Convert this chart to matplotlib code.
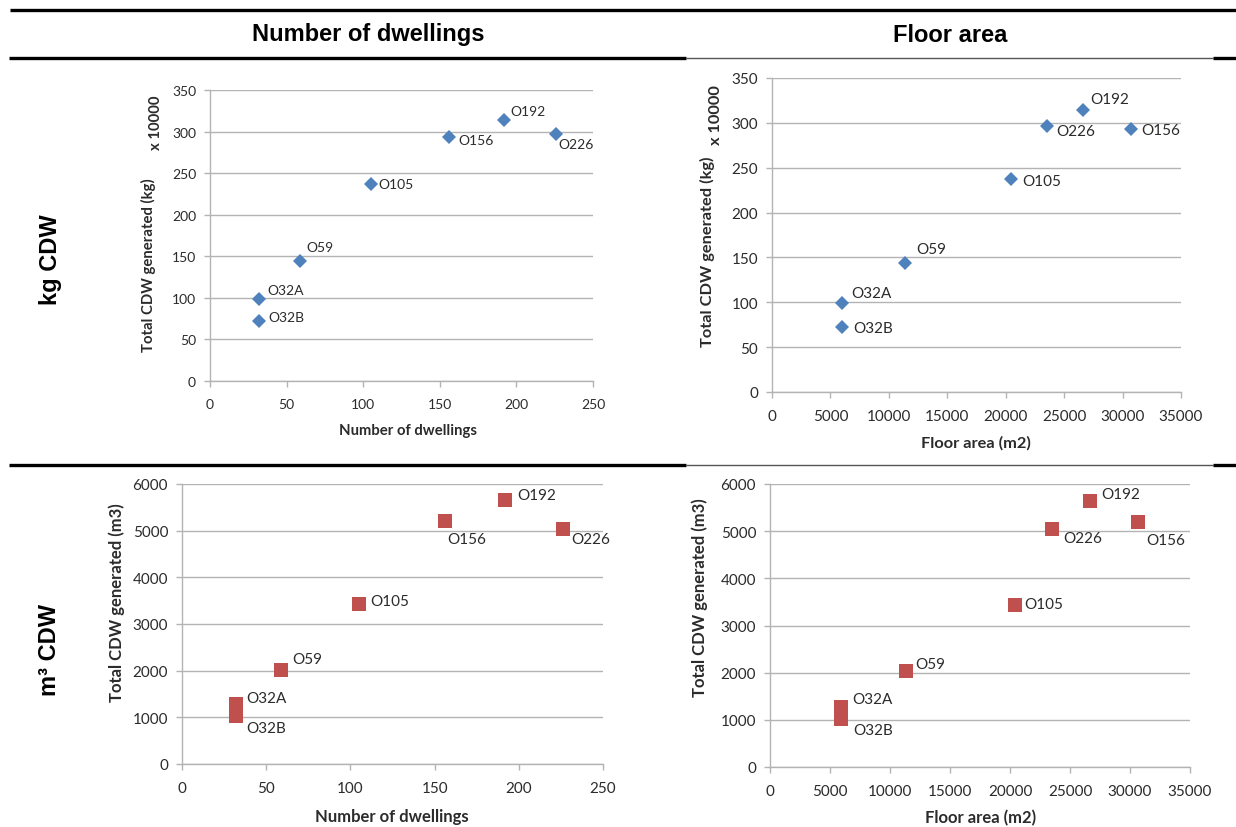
import matplotlib
matplotlib.use("Agg")
import matplotlib.pyplot as plt
from matplotlib.lines import Line2D

# building codes and values
codes = ["O32A", "O32B", "O59", "O105", "O156", "O192", "O226"]
dwellings = [32, 32, 59, 105, 156, 192, 226]
floor_area = [5950, 5950, 11350, 20450, 30700, 26650, 23500]
cdw_kg = [99, 72, 144, 237, 293, 314, 297]          # x 10000 kg
cdw_m3 = [1280, 1020, 2025, 3430, 5200, 5650, 5040]

W, H = 1236, 828
fig = plt.figure(figsize=(W / 100, H / 100), dpi=100)

BLUE = "#4F81BD"
RED = "#C0504D"
GRID = "#B3B3B3"
TXT = "#2b2b2b"
CHART_FONT = ["Lato", "DejaVu Sans"]
HEAD_FONT = ["Liberation Sans", "DejaVu Sans"]


def fx(x):
    return x / W


def fy(y):
    return 1 - y / H


def rect(l, t, r, b):
    return [fx(l), fy(b), fx(r) - fx(l), fy(t) - fy(b)]


# table rules
def hline(y, x0, x1, lw, color="black"):
    fig.add_artist(Line2D([fx(x0), fx(x1)], [fy(y), fy(y)], lw=lw, color=color,
                          transform=fig.transFigure, solid_capstyle="butt"))


hline(11, 10, 1236, 2.4)
hline(59, 9, 686, 2.4)
hline(59, 686, 1213, 1.0, "#555555")
hline(59, 1213, 1236, 2.4)
hline(466, 9, 686, 2.4)
hline(466, 686, 1213, 1.0, "#555555")
hline(466, 1213, 1236, 2.4)

fig.text(fx(368), fy(35), "Number of dwellings", ha="center", va="center",
         fontsize=17, fontweight="bold", family=HEAD_FONT)
fig.text(fx(950), fy(35), "Floor area", ha="center", va="center",
         fontsize=17, fontweight="bold", family=HEAD_FONT)
fig.text(fx(50), fy(260), "kg CDW", ha="center", va="center", rotation=90,
         fontsize=17, fontweight="bold", family=HEAD_FONT)
fig.text(fx(50), fy(650), "m³ CDW", ha="center", va="center", rotation=90,
         fontsize=17, fontweight="bold", family=HEAD_FONT)


def panel(box, xs, ys, xmax, xstep, ymax, ystep, marker, color, ms, fs,
          offsets, xlabel, xlab_pos, ylabel, ylab_pos, lab_fs, mult_pos=None):
    ax = fig.add_axes(rect(*box))
    ax.plot(xs, ys, linestyle="none", marker=marker, color=color, ms=ms,
            markeredgewidth=0, zorder=3)
    ax.set_xlim(0, xmax)
    ax.set_ylim(0, ymax)
    ax.set_xticks(range(0, xmax + 1, xstep))
    ax.set_yticks(range(0, ymax + 1, ystep))
    ax.yaxis.grid(True, color=GRID, lw=1)
    ax.set_axisbelow(True)
    for s in ("top", "right"):
        ax.spines[s].set_visible(False)
    for s in ("left", "bottom"):
        ax.spines[s].set_color(GRID)
        ax.spines[s].set_linewidth(1)
    ax.tick_params(axis="both", direction="out", length=4, width=1, color=GRID,
                   labelsize=fs, labelcolor=TXT, pad=6)
    ax.tick_params(axis="x", pad=8)
    for lab in ax.get_xticklabels() + ax.get_yticklabels():
        lab.set_family(CHART_FONT)
    for code, x, y, (dx, dy) in zip(codes, xs, ys, offsets):
        ax.annotate(code, (x, y), xytext=(dx, -dy), textcoords="offset pixels",
                    ha="left", va="center", fontsize=fs, color=TXT,
                    family=CHART_FONT, zorder=4)
    fig.text(fx(xlab_pos[0]), fy(xlab_pos[1]), xlabel, ha="center", va="center",
             fontsize=lab_fs, fontweight="bold", color=TXT, family=CHART_FONT)
    fig.text(fx(ylab_pos[0]), fy(ylab_pos[1]), ylabel, ha="center", va="center",
             rotation=90, fontsize=lab_fs, fontweight="bold", color=TXT,
             family=CHART_FONT)
    if mult_pos is not None:
        fig.text(fx(mult_pos[0]), fy(mult_pos[1]), "x 10000", ha="center",
                 va="center", rotation=90, fontsize=lab_fs, fontweight="bold",
                 color=TXT, family=CHART_FONT)
    return ax


# label offsets in pixels (right, down) from each marker
off_tl = [(8, -9), (9, -4), (6, -14), (8, 0), (9, 3), (6, -9), (2, 10)]
off_tr = [(10, -10), (12, 1), (12, -14), (11, 2), (10, 1), (7, -11), (10, 5)]
off_bl = [(10, -6), (10, 12), (11, -10), (11, -3), (3, 18), (12, -5), (9, 10)]
off_br = [(11, -8), (12, 11), (9, -7), (9, -1), (8, 18), (11, -7), (11, 9)]

panel((210, 91, 593, 382), dwellings, cdw_kg, 250, 50, 350, 50, "D", BLUE, 7, 10,
      off_tl, "Number of dwellings", (408, 431), "Total CDW generated (kg)",
      (148, 265), 10.7, mult_pos=(156, 123))
panel((772, 79, 1181, 393), floor_area, cdw_kg, 35000, 5000, 350, 50, "D", BLUE,
      7, 11, off_tr, "Floor area (m2)", (976, 443), "Total CDW generated (kg)",
      (707, 252), 11.8, mult_pos=(716, 115))
panel((182, 485, 603, 765), dwellings, cdw_m3, 250, 50, 6000, 1000, "s", RED, 10,
      11, off_bl, "Number of dwellings", (392, 817), "Total CDW generated (m3)",
      (117, 603), 12)
panel((770, 485, 1190, 768), floor_area, cdw_m3, 35000, 5000, 6000, 1000, "s", RED,
      10, 11, off_br, "Floor area (m2)", (981, 818), "Total CDW generated (m3)",
      (700, 598), 12)

fig.savefig("out.png", dpi=100)
